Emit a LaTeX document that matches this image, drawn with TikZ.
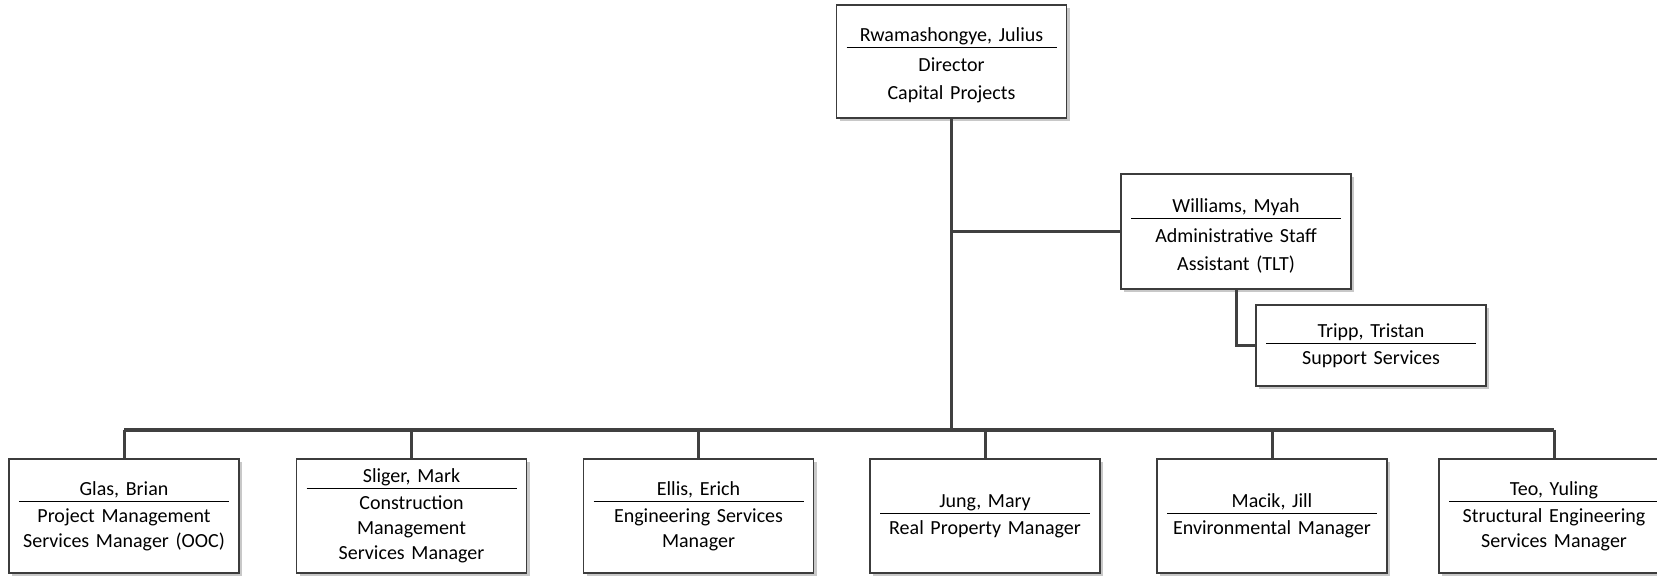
\documentclass[tikz,border=0pt]{standalone}
\usepackage{fontspec}
\setmainfont{Carlito}
\usepackage{xcolor}
\usepackage{tikz}
\usetikzlibrary{shadows}
\definecolor{ink}{HTML}{000000}
\definecolor{frame}{HTML}{3C3C3C}
\definecolor{wire}{HTML}{404040}
\definecolor{shade}{HTML}{C8C8C8}
\newlength\whogap
\setlength\whogap{10.2pt}
\newlength\whohead
\setlength\whohead{0pt}
\tikzset{
  card/.style={draw=frame, line width=0.6pt, fill=white, text=ink,
    minimum width=115pt, text width=106pt, align=center, inner sep=0pt,
    font=\fontsize{10pt}{12.5pt}\selectfont,
    drop shadow={shadow xshift=1.5pt, shadow yshift=-1.5pt, fill=shade, opacity=1}},
  tall/.style={font=\fontsize{10pt}{14pt}\selectfont\setlength\whogap{11.8pt}%
    \setlength\whohead{11pt}},
  link/.style={draw=wire, line width=1.5pt},
}
\newcommand{\who}[2]{\rule{0pt}{\whohead}#1\\[\dimexpr3.2pt-\baselineskip\relax]%
  \rule{105pt}{0.5pt}\\[\dimexpr\whogap-\baselineskip\relax]#2}

\begin{document}
\begin{tikzpicture}[x=0.5pt,y=-0.5pt]
  \useasboundingbox (0,0) rectangle (1657,576);
  \node[card, tall, minimum height=56.5pt] (dir) at (951.5,61.5)
    {\who{Rwamashongye, Julius}{Director\\Capital Projects}};
  \node[card, tall, minimum height=57.5pt] (wil) at (1236,231.5)
    {\who{Williams, Myah}{Administrative Staff\\Assistant (TLT)}};
  \node[card, minimum height=40.5pt] (tri) at (1371,345.5)
    {\who{Tripp, Tristan}{Support Services}};
  \foreach \n/\x/\name/\job in {
      1/124/{Glas, Brian}/{Project Management\\Services Manager (OOC)},
      2/411.5/{Sliger, Mark}/{Construction\\Management\\Services Manager},
      3/698.5/{Ellis, Erich}/{Engineering Services\\Manager},
      4/985/{Jung, Mary}/{Real Property Manager},
      5/1272/{Macik, Jill}/{Environmental Manager},
      6/1554/{Teo, Yuling}/{Structural Engineering\\Services Manager}}
    \node[card, minimum height=57pt] (b\n) at (\x,516) {\who{\name}{\job}};
  \coordinate (bus) at (dir.south |- 0,430);
  \draw[link] (dir.south) -- (bus);
  \draw[link] (b1.north |- bus) -- (b6.north |- bus);
  \foreach \n in {1,...,6}
    \draw[link] (b\n.north |- bus) -- (b\n.north);
  \draw[link] (dir.south |- wil.west) -- (wil.west);
  \draw[link] (wil.south) |- (tri.west);
\end{tikzpicture}
\end{document}
